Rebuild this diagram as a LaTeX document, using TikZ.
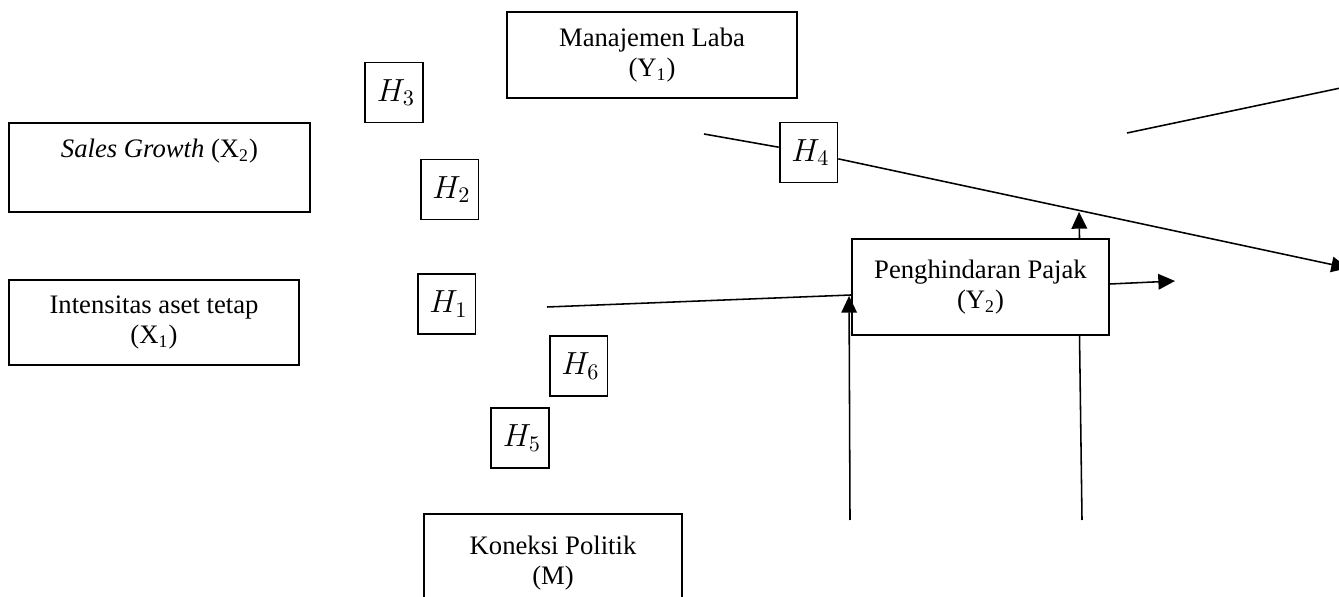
\documentclass[tikz,border=0pt]{standalone}
\usepackage{fontspec}
\setmainfont{Liberation Serif}
\usetikzlibrary{positioning,calc,arrows.meta}

\tikzset{
  varbox/.style={draw,line width=0.8pt,align=center,inner sep=2pt,
    font=\fontsize{12}{13.5}\selectfont},
  hbox/.style={draw,line width=0.8pt,minimum height=27pt,text width=19pt,
    inner xsep=3.5pt,align=right,font=\fontsize{14}{15}\selectfont},
  arr/.style={-{Triangle[length=7.5pt,width=7pt]}},
}

\begin{document}
\begin{tikzpicture}[x=0.45pt,y=-0.45pt,line width=0.7pt]
\clip (0,0) rectangle (1339,597);

% variabel
\node[varbox,minimum width=130.5pt,minimum height=38.7pt] (ml) at (652,55) {Manajemen Laba\\(Y\textsubscript{1})};
\node[varbox,minimum width=135.5pt,minimum height=40pt] (sg) at (159.5,167.5) {\textit{Sales Growth} (X\textsubscript{2})\\\strut};
\node[varbox,minimum width=130.5pt,minimum height=38.3pt] (ia) at (154,322.5) {Intensitas aset tetap\\(X\textsubscript{1})};
\node[varbox,minimum width=115.7pt,minimum height=43.2pt] (pp) at (980.5,287) {Penghindaran Pajak\\(Y\textsubscript{2})};
\node[varbox,minimum width=116.1pt,minimum height=44.1pt] (kp) at (553,563) {Koneksi Politik\\(M)};

% hipotesis
\foreach \n/\x/\y in {1/446.5/304,2/449.5/189.5,3/394/92.5,4/808.5/152.5,5/520/438,6/578.5/366}
  \node[hbox] (h\n) at (\x,\y) {$H_\n$};

% ujung bebas
\coordinate (a1) at (547,307);
\coordinate (b1) at (850,520);
\coordinate (b2) at (1082,520);
\coordinate (l1) at (704,134);
\coordinate (l2) at (1348,268);
\coordinate (r1) at (1175,281);
\coordinate (t1) at (1127,133);
\coordinate (t2) at (1350,86);
\coordinate (u1) at (1079,212);

\draw (a1) -- ($(pp.west)+(0,8)$);
\draw[arr] (b1) -- ($(pp.west)+(-2,9)$);
\draw (b2) -- ($(pp.south)+(99,0)$);
\draw[arr] ($(pp.north)+(99,0)$) -- (u1);
\draw[arr] ($(pp.east)+(0,-3)$) -- (r1);
\draw (l1) -- (h4);
\draw[arr] (h4) -- (l2);
\draw (t1) -- (t2);

\end{tikzpicture}
\end{document}
